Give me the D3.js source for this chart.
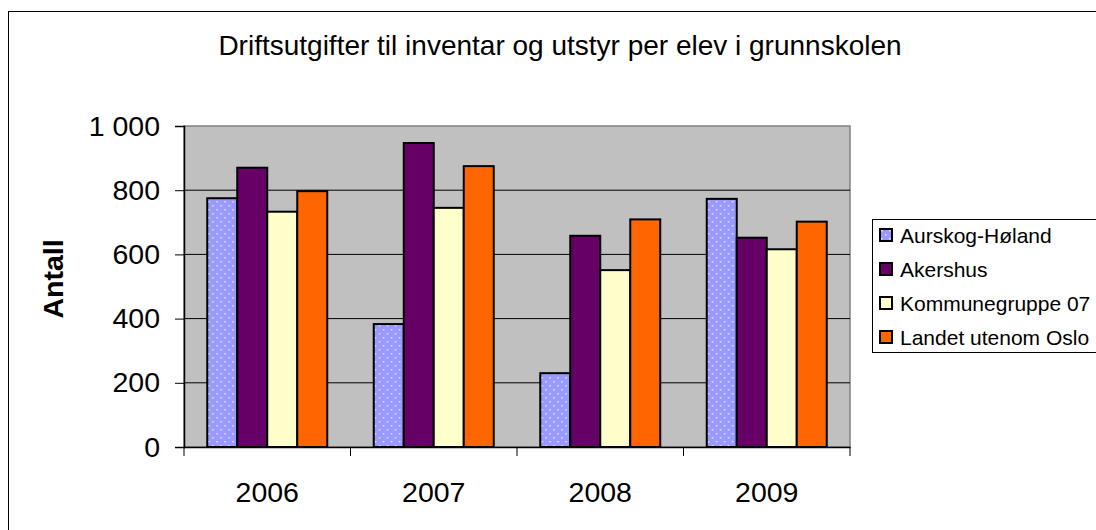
<!DOCTYPE html>
<html>
<head>
<meta charset="utf-8">
<script src="https://cdn.jsdelivr.net/npm/d3@7"></script>
<style>
body { margin: 0; background: #fff; }
text { font-family: "Liberation Sans", Arial, sans-serif; }
</style>
</head>
<body>
<div id="chart"></div>
<script>
const years = ['2006', '2007', '2008', '2009'];
const seriesNames = ['Aurskog-Høland', 'Akershus', 'Kommunegruppe 07', 'Landet utenom Oslo'];
const aurskog = [775, 383, 230, 773];
const akershus = [870, 947, 658, 652];
const kommune = [733, 745, 551, 616];
const landet = [797, 875, 709, 702];
const yTicks = [0, 200, 400, 600, 800, 1000];
const colors = ['url(#dots)', '#660066', '#FFFFCC', '#FF6600'];

const width = 1096, height = 530;
const plot = {left: 184, top: 126, right: 850, bottom: 447};

const allSeries = [aurskog, akershus, kommune, landet];

var svg = d3.select('#chart').append('svg')
  .attr('width', width).attr('height', height);

// dotted fill for first series
var pat = svg.append('defs').append('pattern')
  .attr('id', 'dots').attr('patternUnits', 'userSpaceOnUse')
  .attr('width', 8).attr('height', 8);
pat.append('rect').attr('width', 8).attr('height', 8).attr('fill', '#9999FF');
pat.append('rect').attr('x', 1).attr('y', 1).attr('width', 1.5).attr('height', 1.5).attr('fill', '#e6e6ff');
pat.append('rect').attr('x', 5).attr('y', 5).attr('width', 1.5).attr('height', 1.5).attr('fill', '#e6e6ff');

// outer border (right and bottom edges fall outside the picture)
svg.append('rect').attr('x', 8.5).attr('y', 11.5)
  .attr('width', 1120).attr('height', 540)
  .attr('fill', 'none').attr('stroke', '#000').attr('stroke-width', 1);

svg.append('text')
  .attr('x', 560).attr('y', 55)
  .attr('text-anchor', 'middle')
  .attr('font-size', '28px')
  .text('Driftsutgifter til inventar og utstyr per elev i grunnskolen');

var x = d3.scaleBand().domain(years).range([plot.left, plot.right]).paddingInner(0).paddingOuter(0);
var x1 = d3.scaleBand().domain(seriesNames).range([0, 120]);
var y = d3.scaleLinear().domain([0, 1000]).range([plot.bottom, plot.top]);

svg.append('rect')
  .attr('x', plot.left).attr('y', plot.top)
  .attr('width', plot.right - plot.left).attr('height', plot.bottom - plot.top)
  .attr('fill', '#C0C0C0').attr('stroke', '#808080').attr('stroke-width', 1.5);

svg.append('g').selectAll('line')
  .data(yTicks.slice(1, -1)).enter().append('line')
  .attr('x1', plot.left).attr('x2', plot.right)
  .attr('y1', d => y(d)).attr('y2', d => y(d))
  .attr('stroke', '#000').attr('stroke-width', 1);

// y axis
var yAxis = svg.append('g')
  .attr('transform', 'translate(' + plot.left + ',0)')
  .call(d3.axisLeft(y).tickValues(yTicks).tickSize(9).tickPadding(15)
    .tickFormat(d => d3.format(',')(d).replace(',', ' ')));
yAxis.select('.domain').attr('stroke', '#000').attr('stroke-width', 1.5);
yAxis.selectAll('.tick line').attr('stroke', '#000');
yAxis.selectAll('text').attr('font-size', '28.5px').attr('fill', '#000')
  .style('font-family', '"Liberation Sans", Arial, sans-serif');

// x axis
var xAxis = svg.append('g')
  .attr('transform', 'translate(0,' + plot.bottom + ')')
  .call(d3.axisBottom(x).tickSize(0).tickPadding(0));
xAxis.select('.domain').attr('stroke', '#000').attr('stroke-width', 1.5);
xAxis.selectAll('text').attr('font-size', '28.5px').attr('fill', '#000')
  .attr('dy', null).attr('y', 55)
  .style('font-family', '"Liberation Sans", Arial, sans-serif');
xAxis.selectAll('.sep')
  .data([0, 1, 2, 3, 4]).enter().append('line')
  .attr('x1', d => plot.left + d * x.step()).attr('x2', d => plot.left + d * x.step())
  .attr('y1', 0).attr('y2', 9).attr('stroke', '#000').attr('stroke-width', 1);

svg.append('text')
  .attr('transform', 'translate(63,279) rotate(-90)')
  .attr('text-anchor', 'middle')
  .attr('font-size', '28.5px').attr('font-weight', 'bold')
  .text('Antall');

// bars
var groups = svg.selectAll('.grp')
  .data(years).enter().append('g')
  .attr('transform', d => 'translate(' + (x(d) + (x.bandwidth() - 120) / 2) + ',0)');

groups.selectAll('rect')
  .data((d, i) => seriesNames.map((s, j) => ({s: s, j: j, v: allSeries[j][i]})))
  .enter().append('rect')
  .attr('x', d => x1(d.s))
  .attr('y', d => y(d.v))
  .attr('width', x1.bandwidth())
  .attr('height', d => plot.bottom - y(d.v))
  .attr('fill', d => colors[d.j])
  .attr('stroke', '#000').attr('stroke-width', 2);

// legend
var lg = svg.append('g');
lg.append('rect').attr('x', 872.5).attr('y', 219.5)
  .attr('width', 240).attr('height', 133)
  .attr('fill', '#fff').attr('stroke', '#000').attr('stroke-width', 1);
var items = lg.selectAll('.item')
  .data(seriesNames).enter().append('g')
  .attr('transform', (d, i) => 'translate(880,' + (229 + i * 34) + ')');
items.append('rect').attr('width', 12).attr('height', 12)
  .attr('fill', (d, i) => colors[i]).attr('stroke', '#000').attr('stroke-width', 2);
items.append('text').attr('x', 20).attr('y', 14)
  .attr('font-size', '21px')
  .text(d => d);
</script>
</body>
</html>
